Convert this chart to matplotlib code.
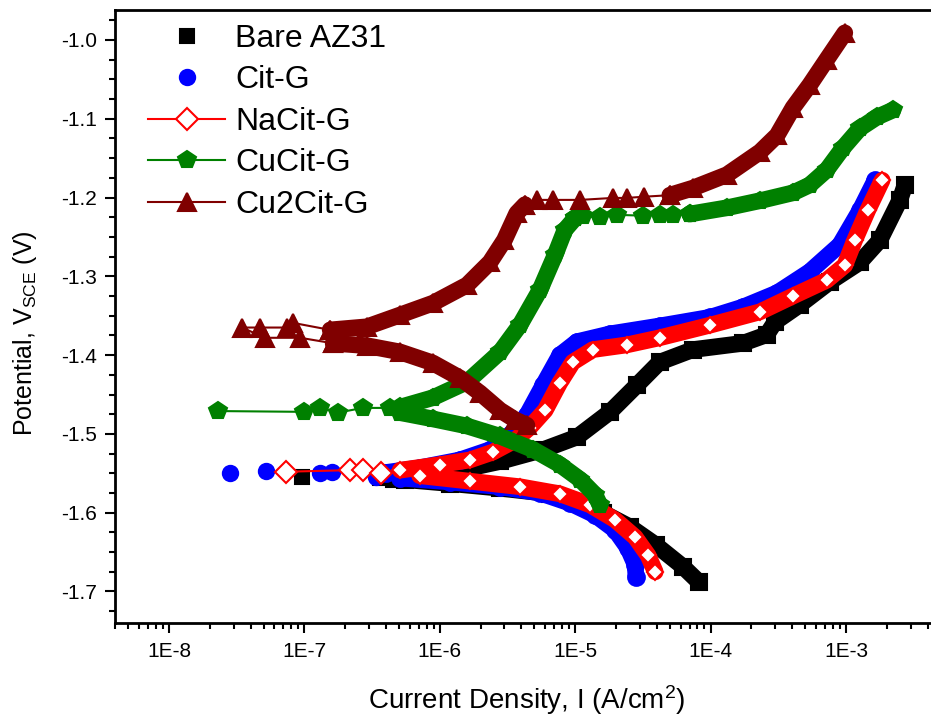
import numpy as np
import matplotlib
matplotlib.use('Agg')
import matplotlib.pyplot as plt
from matplotlib.ticker import FixedLocator, FuncFormatter, MultipleLocator, NullFormatter

plt.rcParams['font.family'] = ['Liberation Sans', 'DejaVu Sans']
plt.rcParams['mathtext.fontset'] = 'custom'
plt.rcParams['mathtext.rm'] = 'Liberation Sans'
plt.rcParams['mathtext.it'] = 'Liberation Sans:italic'

# ---- data (I in A/cm2, E in V vs SCE) ----
# Bare AZ31
bare_cat_i = [8.2e-5, 6.3e-5, 3.95e-5, 2.54e-5, 1.6e-5, 6.5e-6, 2.8e-6, 1.19e-6, 5.5e-7]
bare_cat_e = [-1.688, -1.669, -1.641, -1.618, -1.600, -1.576, -1.569, -1.563, -1.558]
bare_mid_i = [9.6e-8, 3.6e-7, 4.5e-7]
bare_mid_e = [-1.555, -1.556, -1.559]
bare_an_i = [5.5e-7, 7.1e-7, 1.41e-6, 2.78e-6, 5.8e-6, 1.03e-5, 1.81e-5, 2.86e-5, 4.2e-5, 7.4e-5,
             1.73e-4, 2.6e-4, 2.99e-4, 4.57e-4, 7.6e-4, 1.27e-3, 1.78e-3, 2.5e-3, 2.73e-3]
bare_an_e = [-1.557, -1.554, -1.546, -1.535, -1.520, -1.504, -1.472, -1.438, -1.409, -1.393,
             -1.385, -1.374, -1.358, -1.336, -1.307, -1.282, -1.254, -1.203, -1.184]

# Cit-G
cit_cat_i = [2.81e-5, 2.77e-5, 2.45e-5, 1.97e-5, 1.40e-5, 9.2e-6, 5.5e-6, 2.78e-6, 1.19e-6, 5.1e-7]
cit_cat_e = [-1.681, -1.666, -1.645, -1.622, -1.603, -1.588, -1.575, -1.567, -1.561, -1.556]
cit_mid_i = [2.82e-8, 5.2e-8, 1.30e-7, 1.6e-7, 3.4e-7]
cit_mid_e = [-1.549, -1.547, -1.549, -1.548, -1.555]
cit_an_i = [4.0e-7, 7.1e-7, 1.41e-6, 2.35e-6, 3.3e-6, 4.4e-6, 5.8e-6, 7.7e-6, 1.03e-5, 1.81e-5,
            4.2e-5, 9.9e-5, 1.73e-4, 3.1e-4, 5.4e-4, 9.0e-4, 1.27e-3, 1.64e-3]
cit_an_e = [-1.549, -1.543, -1.533, -1.520, -1.501, -1.476, -1.438, -1.400, -1.383, -1.373,
            -1.363, -1.352, -1.339, -1.321, -1.294, -1.260, -1.216, -1.178]

# NaCit-G
na_cat_i = [3.9e-5, 3.45e-5, 2.77e-5, 1.97e-5, 1.29e-5, 7.7e-6, 3.9e-6, 1.67e-6, 7.1e-7]
na_cat_e = [-1.675, -1.654, -1.631, -1.609, -1.590, -1.576, -1.567, -1.560, -1.553]
na_mid_i = [7.3e-8, 2.17e-7, 2.7e-7, 3.7e-7]
na_mid_e = [-1.548, -1.546, -1.546, -1.550]
na_an_i = [5.1e-7, 1.0e-6, 1.67e-6, 2.47e-6, 3.6e-6, 4.6e-6, 6.0e-6, 7.7e-6, 9.6e-6, 1.35e-5,
           2.41e-5, 4.2e-5, 9.9e-5, 2.32e-4, 4.06e-4, 7.2e-4, 9.8e-4, 1.16e-3, 1.45e-3, 1.85e-3]
na_an_e = [-1.546, -1.539, -1.533, -1.523, -1.508, -1.492, -1.470, -1.435, -1.409, -1.393,
           -1.387, -1.378, -1.362, -1.345, -1.325, -1.305, -1.286, -1.254, -1.216, -1.178]

# CuCit-G
cu_cat_i = [1.52e-5, 1.40e-5, 1.09e-5, 7.7e-6, 4.9e-6, 2.79e-6, 1.59e-6, 8.9e-7, 5.1e-7]
cu_cat_e = [-1.590, -1.577, -1.558, -1.539, -1.520, -1.503, -1.490, -1.481, -1.473]
cu_mid_i = [2.3e-8, 1.0e-7, 1.3e-7, 1.77e-7, 2.7e-7, 4.3e-7]
cu_mid_e = [-1.471, -1.472, -1.467, -1.473, -1.467, -1.467]
cu_an1_i = [5.1e-7, 8.9e-7, 1.59e-6, 2.79e-6, 3.9e-6, 5.5e-6, 7.1e-6, 8.4e-6, 1.0e-5]
cu_an1_e = [-1.466, -1.454, -1.434, -1.396, -1.362, -1.317, -1.273, -1.241, -1.226]
cu_plat_i = [1.0e-5, 1.14e-5, 1.52e-5, 2.04e-5, 3.17e-5, 4.23e-5, 5.3e-5, 7.0e-5]
cu_plat_e = [-1.226, -1.224, -1.225, -1.222, -1.223, -1.222, -1.222, -1.221]
cu_an2_i = [7.0e-5, 1.32e-4, 2.32e-4, 4.06e-4, 5.4e-4, 7.2e-4, 9.5e-4, 1.27e-3, 1.69e-3, 2.22e-3]
cu_an2_e = [-1.221, -1.213, -1.204, -1.194, -1.184, -1.165, -1.137, -1.112, -1.098, -1.089]

# Cu2Cit-G
cu2_cat_i = [4.4e-6, 3.6e-6, 2.79e-6, 1.98e-6, 1.41e-6, 8.9e-7, 5.1e-7, 2.9e-7, 1.63e-7]
cu2_cat_e = [-1.489, -1.482, -1.470, -1.448, -1.429, -1.410, -1.396, -1.388, -1.385]
cu2_mid_i = [1.63e-7, 9.3e-8, 5.1e-8, 3.46e-8, 4.7e-8, 7.4e-8, 8.2e-8, 1.55e-7]
cu2_mid_e = [-1.385, -1.378, -1.378, -1.365, -1.365, -1.365, -1.359, -1.368]
cu2_an1_i = [1.55e-7, 2.9e-7, 5.1e-7, 8.9e-7, 1.59e-6, 2.35e-6, 3.0e-6, 3.7e-6, 4.26e-6]
cu2_an1_e = [-1.368, -1.364, -1.349, -1.334, -1.311, -1.282, -1.254, -1.220, -1.209]
cu2_plat_i = [4.26e-6, 5.2e-6, 6.9e-6, 1.09e-5, 1.9e-5, 2.4e-5, 3.2e-5, 5.0e-5]
cu2_plat_e = [-1.209, -1.203, -1.203, -1.203, -1.2005, -1.2005, -1.199, -1.197]
cu2_an2_i = [5.0e-5, 7.4e-5, 1.32e-4, 2.32e-4, 3.1e-4, 4.06e-4, 5.4e-4, 7.2e-4, 9.8e-4]
cu2_an2_e = [-1.197, -1.188, -1.171, -1.142, -1.121, -1.086, -1.057, -1.025, -0.991]

BAND = 12


def band(ax, i, e, color, marker, ms, mfc, z):
    # the dense scan points overlap into a solid band in the original
    ax.plot(i, e, color=color, lw=BAND, solid_capstyle='round', solid_joinstyle='round', zorder=z)
    ax.plot(i, e, ls='none', marker=marker, ms=ms, color=color, mfc=mfc, mec=color, mew=1.5, zorder=z + 0.1)


def sparse(ax, i, e, color, marker, ms, mfc, z, line, label=None):
    ax.plot(i, e, color=color, lw=1.5 if line else 0, ls='-' if line else 'none',
            marker=marker, ms=ms, mfc=mfc, mec=color, mew=1.5, zorder=z + 0.2, label=label)


fig = plt.figure(figsize=(9.31, 7.2), dpi=100)
ax = fig.add_axes([0.1235, 0.1347, 0.8851, 0.8514])
ax.set_xscale('log')

# Bare AZ31
band(ax, bare_cat_i, bare_cat_e, 'black', 's', 11, 'black', 2)
band(ax, bare_an_i, bare_an_e, 'black', 's', 11, 'black', 2)
sparse(ax, bare_mid_i, bare_mid_e, 'black', 's', 10, 'black', 2, False, 'Bare AZ31')

# Cit-G
band(ax, cit_cat_i, cit_cat_e, '#0000FF', 'o', 12, '#0000FF', 3)
band(ax, cit_an_i, cit_an_e, '#0000FF', 'o', 12, '#0000FF', 3)
sparse(ax, cit_mid_i, cit_mid_e, '#0000FF', 'o', 11, '#0000FF', 3, False, 'Cit-G')

# NaCit-G
band(ax, na_cat_i, na_cat_e, '#FF0000', 'D', 8, 'white', 4)
band(ax, na_an_i, na_an_e, '#FF0000', 'D', 8, 'white', 4)
sparse(ax, na_mid_i, na_mid_e, '#FF0000', 'D', 11, 'white', 4, True, 'NaCit-G')

# CuCit-G
band(ax, cu_cat_i, cu_cat_e, '#008000', 'p', 13, '#008000', 5)
band(ax, cu_an1_i, cu_an1_e, '#008000', 'p', 13, '#008000', 5)
band(ax, cu_an2_i, cu_an2_e, '#008000', 'p', 13, '#008000', 5)
sparse(ax, cu_plat_i, cu_plat_e, '#008000', 'p', 13, '#008000', 5, True)
sparse(ax, cu_mid_i, cu_mid_e, '#008000', 'p', 13, '#008000', 5, True, 'CuCit-G')

# Cu2Cit-G
band(ax, cu2_cat_i, cu2_cat_e, '#800000', '^', 13, '#800000', 6)
band(ax, cu2_an1_i, cu2_an1_e, '#800000', '^', 13, '#800000', 6)
band(ax, cu2_an2_i, cu2_an2_e, '#800000', '^', 13, '#800000', 6)
sparse(ax, cu2_plat_i, cu2_plat_e, '#800000', '^', 13, '#800000', 6, True)
sparse(ax, cu2_mid_i, cu2_mid_e, '#800000', '^', 13, '#800000', 6, True, 'Cu2Cit-G')

ax.set_xlim(10 ** -8.399, 10 ** -2.313)
ax.set_ylim(-1.740, -0.962)

ax.xaxis.set_major_locator(FixedLocator([1e-8, 1e-7, 1e-6, 1e-5, 1e-4, 1e-3]))
ax.xaxis.set_major_formatter(FuncFormatter(lambda v, p: '1E%d' % round(np.log10(v))))
minors = [m * 10.0 ** k for k in range(-9, -2) for m in range(2, 10)]
ax.xaxis.set_minor_locator(FixedLocator(minors))
ax.xaxis.set_minor_formatter(NullFormatter())
ax.yaxis.set_major_locator(MultipleLocator(0.1))
ax.yaxis.set_minor_locator(MultipleLocator(0.025))
ax.yaxis.set_major_formatter(FuncFormatter(lambda v, p: '%.1f' % v))

for s in ax.spines.values():
    s.set_linewidth(2)
ax.tick_params(which='major', direction='out', length=7, width=1.5, labelsize=15)
ax.tick_params(axis='y', which='major', pad=6)
ax.tick_params(axis='x', which='major', pad=7)
ax.tick_params(which='minor', direction='out', length=4, width=1.5)
ax.tick_params(top=False, right=False, which='both')

ax.set_xlabel('Current Density, I (A/cm$^2$)', fontsize=20, labelpad=16)
ax.set_ylabel('Potential, V$_{\\mathrm{SCE}}$ (V)', fontsize=18)
ax.yaxis.set_label_coords(-0.092, 0.473)

leg = ax.legend(loc='upper left', bbox_to_anchor=(0.1525, 0.9756), bbox_transform=fig.transFigure,
                frameon=False, fontsize=23, handlelength=2.4, handletextpad=0.31,
                labelspacing=0.36, borderaxespad=0.0, borderpad=0.2)

fig.savefig('out.png', dpi=100)
